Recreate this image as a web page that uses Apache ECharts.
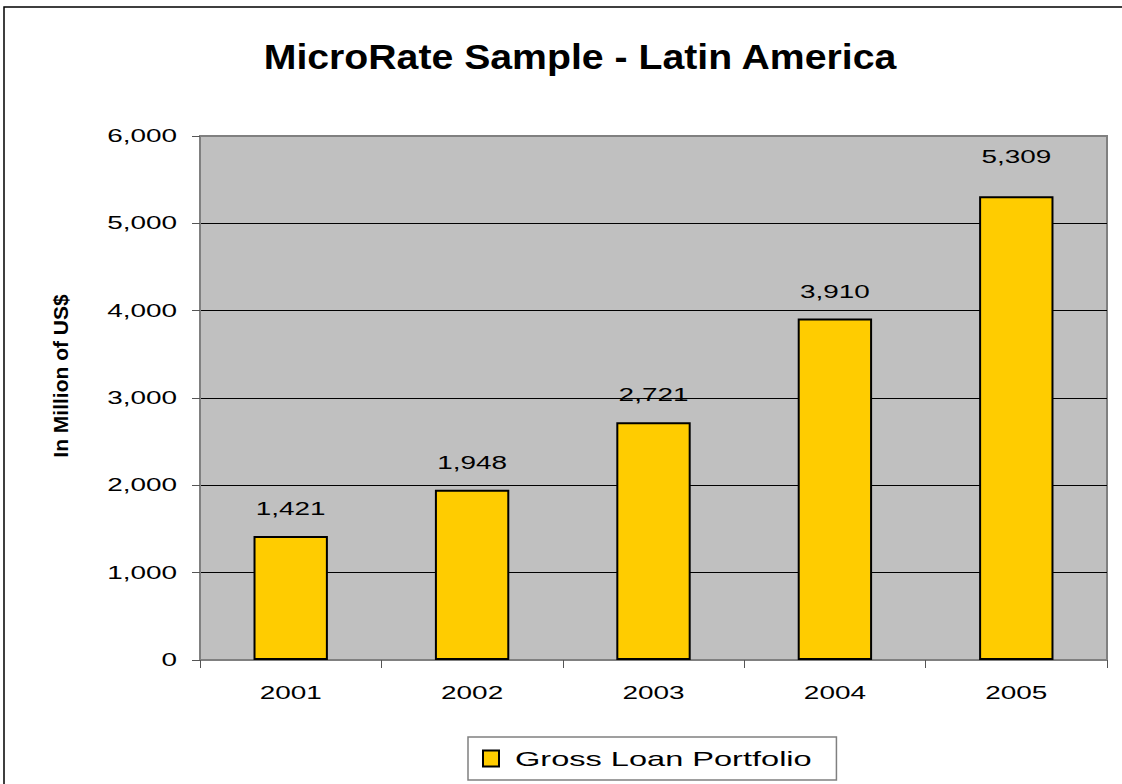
<!DOCTYPE html>
<html>
<head>
<meta charset="utf-8">
<style>
  html, body { margin: 0; padding: 0; background: #ffffff; }
  #chart { width: 1122px; height: 784px; }
</style>
<script src="https://cdn.jsdelivr.net/npm/echarts@6/dist/echarts.min.js"></script>
</head>
<body>
<div id="chart"></div>
<script>
const chartTitle = 'MicroRate Sample - Latin America';
const yAxisName = 'In Million of US$';
const seriesName = 'Gross Loan Portfolio';
const years = ['2001', '2002', '2003', '2004', '2005'];
const grossLoanPortfolio = [1421, 1948, 2721, 3910, 5309];
const yMin = 0, yMax = 6000, yStep = 1000;

const FONT = 'Liberation Sans';
const fmt = v => Number(v).toLocaleString('en-US');
const chart = echarts.init(document.getElementById('chart'), null, { renderer: 'svg' });

// the last value label sits a little higher in the reference
const barData = grossLoanPortfolio.map((v, i) =>
  i === grossLoanPortfolio.length - 1 ? { value: v, label: { distance: 30 } } : v);

chart.setOption({
  backgroundColor: '#ffffff',
  animation: false,
  title: {
    text: chartTitle,
    left: 575,
    top: 34,
    textAlign: 'center',
    textStyle: { fontFamily: FONT, fontWeight: 'bold', fontSize: 35, color: '#000' }
  },
  graphic: [{
    type: 'polyline',
    shape: { points: [[4, 800], [4, 7], [1130, 7]] },
    style: { fill: 'none', stroke: '#000', lineWidth: 1.5 },
    silent: true, z: -10
  }],
  grid: {
    left: 200, right: 15, top: 136, bottom: 124,
    show: true,
    backgroundColor: '#C0C0C0',
    borderColor: '#808080',
    borderWidth: 2
  },
  legend: {
    data: [seriesName],
    left: 468,
    top: 737,
    padding: [11, 130, 11, 14],
    borderColor: '#808080',
    borderWidth: 1.5,
    backgroundColor: '#ffffff',
    itemWidth: 16,
    itemHeight: 16,
    icon: 'rect',
    textStyle: { fontFamily: FONT, fontSize: 21, color: '#000', padding: [0, 0, 0, 11] }
  },
  xAxis: {
    type: 'category',
    data: years,
    axisLine: { show: true, lineStyle: { color: '#808080', width: 2 } },
    axisTick: { show: true, alignWithLabel: false, length: 8, lineStyle: { color: '#555', width: 1 } },
    axisLabel: { margin: 24, fontFamily: FONT, fontSize: 18, color: '#000' },
    splitLine: { show: false }
  },
  yAxis: {
    type: 'value',
    min: yMin, max: yMax, interval: yStep,
    name: yAxisName,
    nameLocation: 'middle',
    nameGap: 129,
    nameRotate: 90,
    nameTextStyle: { fontFamily: FONT, fontWeight: 'bold', fontSize: 21, color: '#000', padding: [0, 0, 0, 44] },
    axisLine: { show: true, lineStyle: { color: '#808080', width: 2 } },
    axisTick: { show: true, length: 8, lineStyle: { color: '#555', width: 1 } },
    axisLabel: { margin: 23, fontFamily: FONT, fontSize: 18, color: '#000', formatter: fmt },
    splitLine: { show: true, showMaxLine: false, lineStyle: { color: '#000', width: 1 } }
  },
  series: [{
    name: seriesName,
    type: 'bar',
    data: barData,
    barWidth: '41%',
    itemStyle: { color: '#FFCC00', borderColor: '#000', borderWidth: 2 },
    label: {
      show: true, position: 'top', distance: 18,
      fontFamily: FONT, fontSize: 18, color: '#000',
      formatter: p => fmt(p.value)
    }
  }]
});

// Widen the glyphs as in the reference picture (title a little, other regular texts more).
function stretchTexts() {
  document.querySelectorAll('#chart text').forEach(t => {
    const cs = window.getComputedStyle(t);
    const bold = parseInt(cs.fontWeight, 10) >= 600;
    const size = parseFloat(cs.fontSize);
    const k = bold ? (size >= 30 ? 1.12 : 1.0) : 1.55;
    t.removeAttribute('textLength');
    if (k === 1.0) return;
    const w = t.getComputedTextLength();
    if (w > 0) {
      t.setAttribute('textLength', (w * k).toFixed(1));
      t.setAttribute('lengthAdjust', 'spacingAndGlyphs');
    }
  });
}
chart.on('finished', stretchTexts);
stretchTexts();
</script>
</body>
</html>
